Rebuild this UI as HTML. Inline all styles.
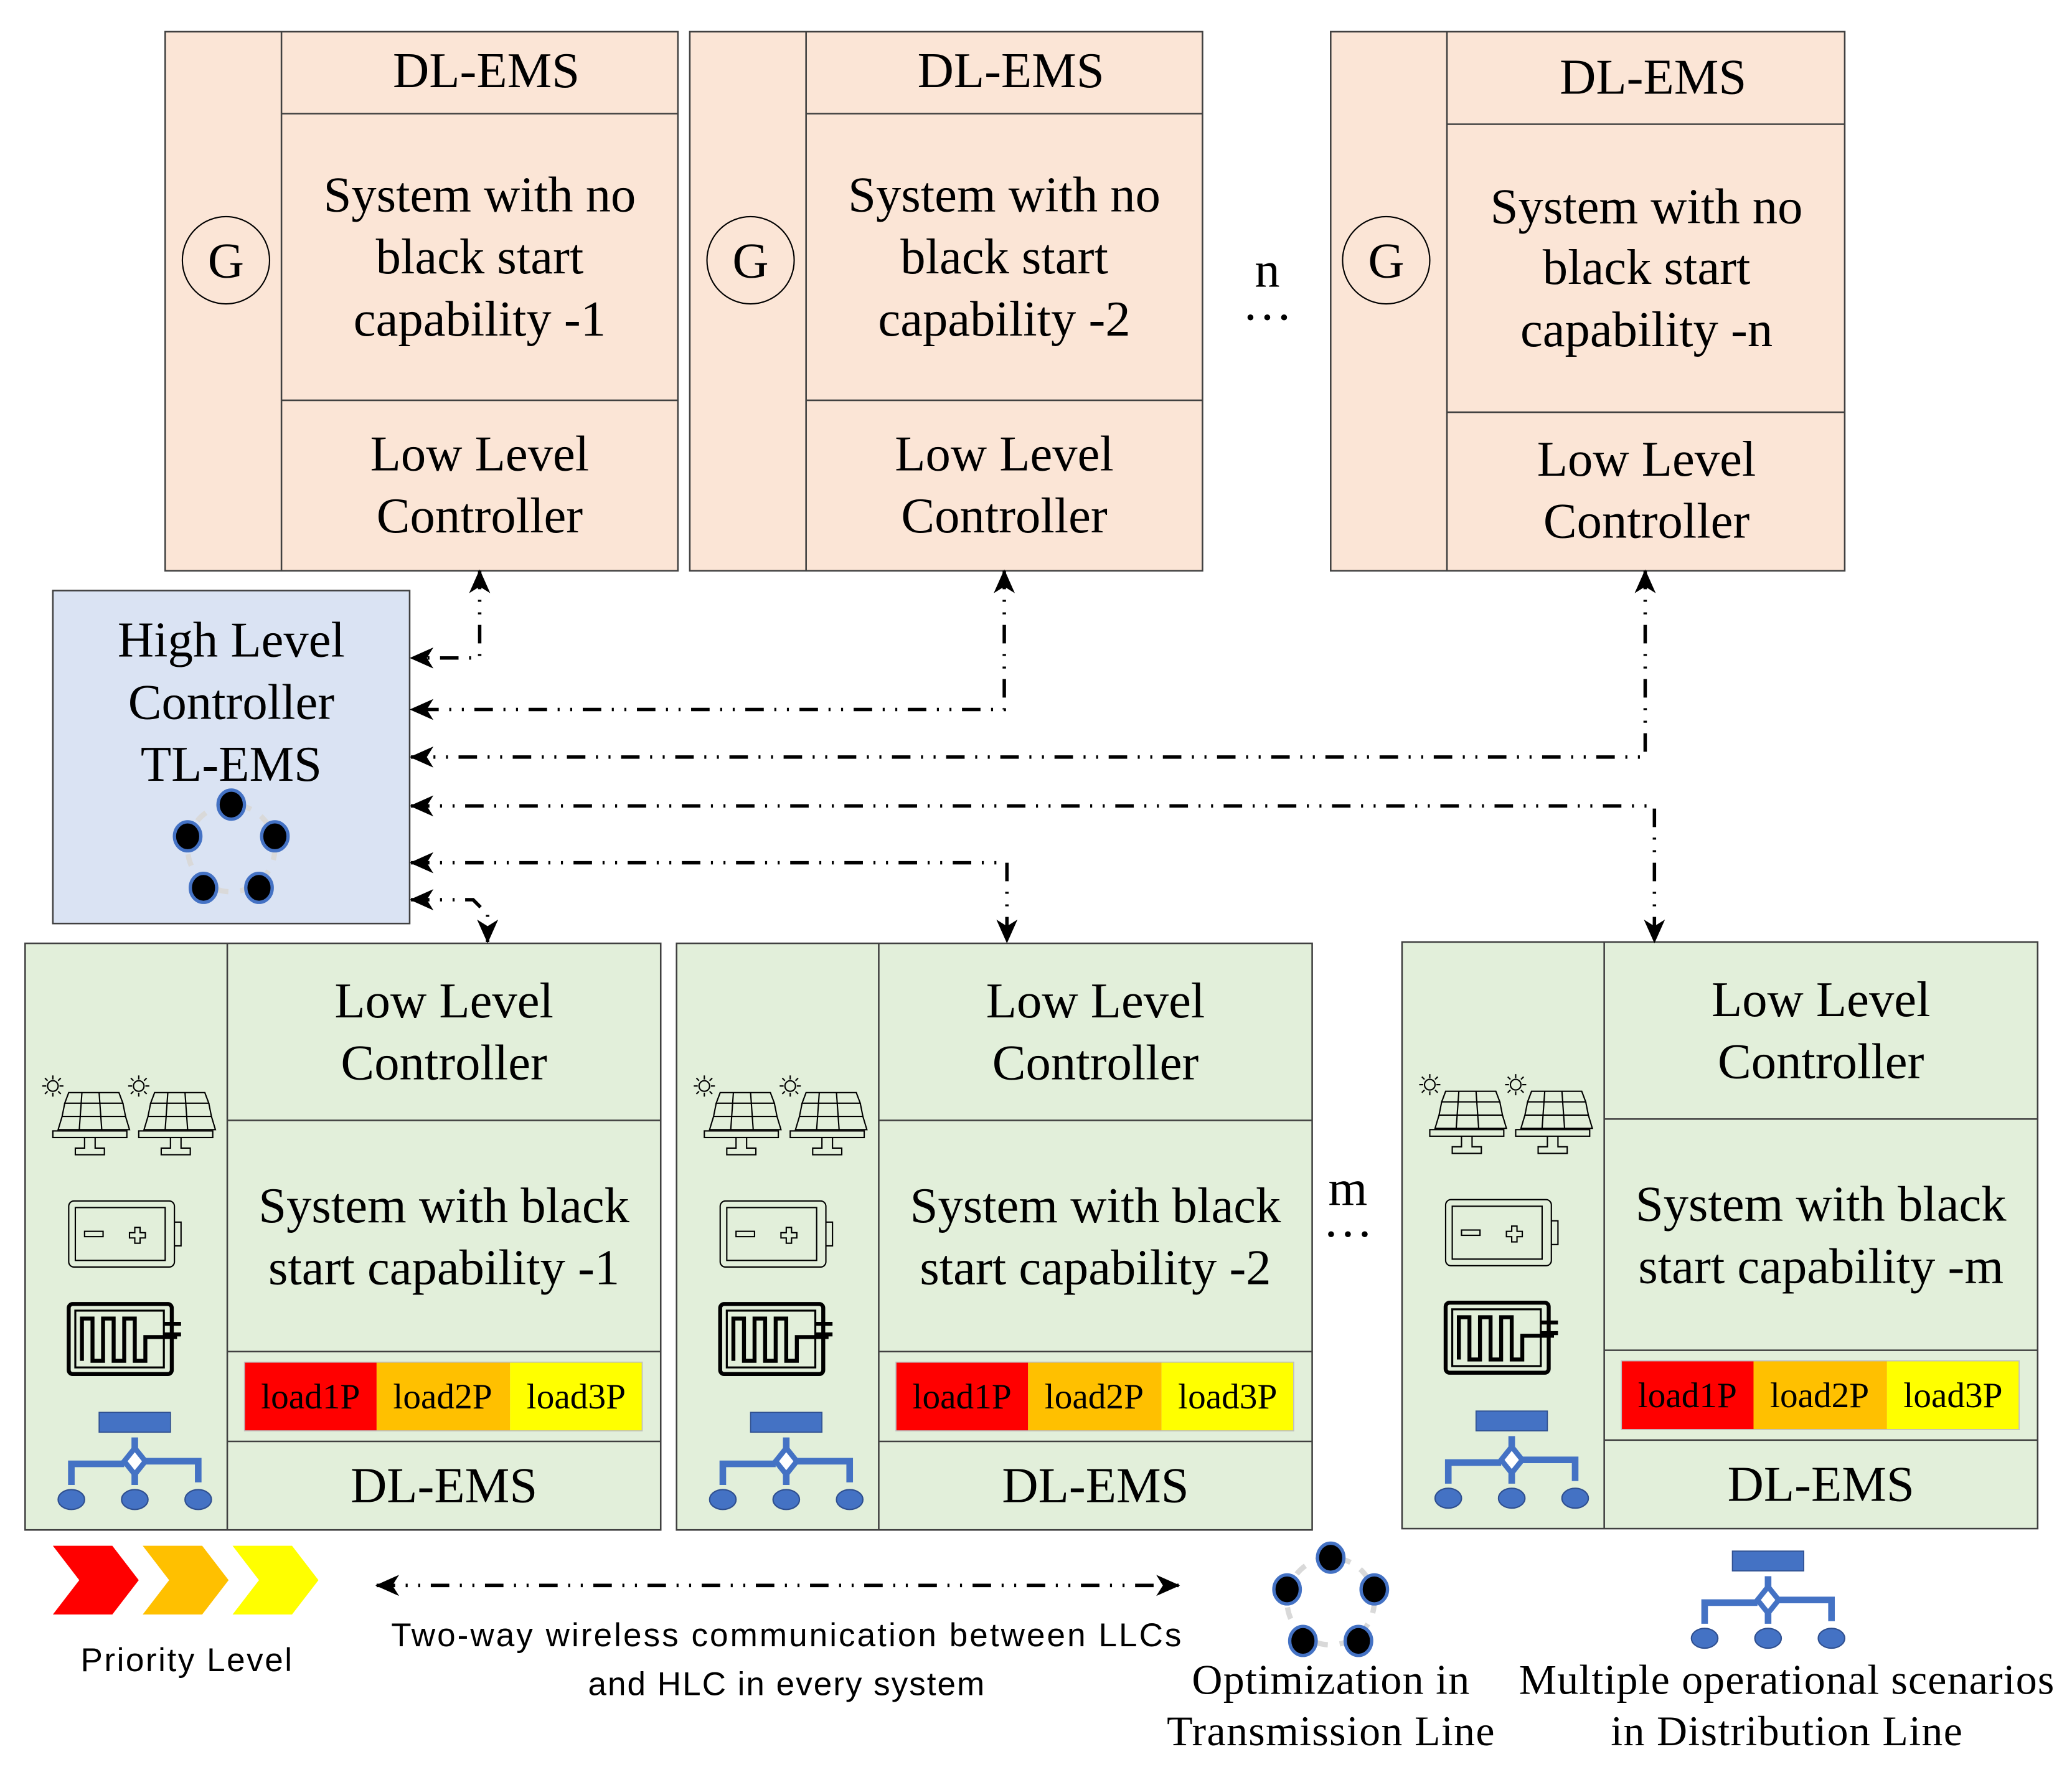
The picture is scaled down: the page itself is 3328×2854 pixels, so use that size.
<!DOCTYPE html>
<html><head><meta charset="utf-8"><style>html,body{margin:0;padding:0;background:#fff}svg{display:block;font-family:"Liberation Serif","Times New Roman",serif}.sans{font-family:"Liberation Sans","DejaVu Sans",sans-serif}</style></head>
<body>
<svg width="3328" height="2854" viewBox="0 0 1568 1345" preserveAspectRatio="none" xmlns="http://www.w3.org/2000/svg">
<defs>
<marker id="ah" markerWidth="18" markerHeight="16" refX="17" refY="8" orient="auto-start-reverse" markerUnits="userSpaceOnUse" viewBox="0 0 18 16"><path d="M0,0 L18,8 L0,16 L5,8 Z" fill="#000"/></marker>
<g id="icons">
 <g fill="none" stroke="#000" stroke-width="1">
  <g id="panel">
   <circle cx="40" cy="822" r="4"/>
   <path d="M40,814v3M40,827v3M32,822h3M45,822h3M34,816l2,2M44,826l2,2M34,828l2,-2M44,818l2,-2"/>
   <path d="M52,827h38l3,8h-44z M49,835h44l2,10h-48z M47,845h48l3,10h-54z"/>
   <path d="M62,827l-2,28M75,827l2,28"/>
   <rect x="40" y="856" width="56" height="5"/>
   <path d="M64,861v8h-7v5h22v-5h-7v-8"/>
  </g>
  <use href="#panel" transform="translate(65,0)"/>
 </g>
 <rect x="52" y="909" width="80" height="50" rx="4" fill="none" stroke="#000" stroke-width="1"/>
 <rect x="57" y="914" width="68" height="40" fill="none" stroke="#000" stroke-width="1"/>
 <path d="M132,925h5v18h-5" fill="none" stroke="#000" stroke-width="1"/>
 <rect x="64" y="932" width="14" height="4" fill="none" stroke="#000" stroke-width="1"/>
 <path d="M102,929h4v4h4v4h-4v4h-4v-4h-4v-4h4z" fill="none" stroke="#000" stroke-width="1"/>
 <rect x="52" y="987" width="78" height="53" rx="3" fill="none" stroke="#000" stroke-width="3"/>
 <rect x="57" y="992" width="67" height="43" fill="none" stroke="#000" stroke-width="1.5"/>
 <path d="M62,1030 v-32 h8 v32 h8 v-32 h8 v32 h8 v-32 h8 v32 h8 v-18 h24" fill="none" stroke="#000" stroke-width="3"/>
 <path d="M124,1002h13M124,1010h13" stroke="#000" stroke-width="3"/>
 <g id="net">
  <rect x="75" y="1069" width="54" height="15" fill="#4472c4" stroke="#2f4f8f" stroke-width="0.8"/>
  <path d="M102,1088v10M102,1114v10M54,1124v-16h40M110,1106h40v16" fill="none" stroke="#4472c4" stroke-width="5"/>
  <path d="M102,1096l8,10l-8,10l-8,-10z" fill="#fff" stroke="#4472c4" stroke-width="4"/>
  <ellipse cx="54" cy="1135" rx="10" ry="7.5" fill="#4472c4" stroke="#2f4f8f"/>
  <ellipse cx="102" cy="1135" rx="10" ry="7.5" fill="#4472c4" stroke="#2f4f8f"/>
  <ellipse cx="150" cy="1135" rx="10" ry="7.5" fill="#4472c4" stroke="#2f4f8f"/>
 </g>
</g>
<g id="penta">
 <circle cx="0" cy="0" r="33" fill="none" stroke="#d9d9d9" stroke-width="4" stroke-dasharray="9 9"/>
 <g fill="#000" stroke="#4472c4" stroke-width="2.5">
  <ellipse cx="0" cy="-33" rx="10" ry="11"/>
  <ellipse cx="33" cy="-9" rx="10" ry="11"/>
  <ellipse cx="21" cy="30" rx="10" ry="11"/>
  <ellipse cx="-21" cy="30" rx="10" ry="11"/>
  <ellipse cx="-33" cy="-9" rx="10" ry="11"/>
 </g>
</g>
</defs>

<g stroke="#404040" stroke-width="1.2" fill="#fbe5d6">
 <rect x="125" y="24" width="388" height="408"/><path d="M213,24V432M213,86H513M213,303H513" fill="none"/>
 <rect x="522" y="24" width="388" height="408"/><path d="M610,24V432M610,86H910M610,303H910" fill="none"/>
 <rect x="1007" y="24" width="389" height="408"/><path d="M1095,24V432M1095,94H1396M1095,312H1396" fill="none"/>
</g>
<g fill="none" stroke="#000" stroke-width="1">
 <circle cx="171" cy="197" r="33"/><circle cx="568" cy="197" r="33"/><circle cx="1049" cy="197" r="33"/>
</g>
<g font-size="38" text-anchor="middle" fill="#000">
 <text x="171" y="210">G</text><text x="568" y="210">G</text><text x="1049" y="210">G</text>
 <text x="368" y="66">DL-EMS</text>
 <text x="363" y="160">System with no</text><text x="363" y="207">black start</text><text x="363" y="254">capability  -1</text>
 <text x="363" y="356">Low Level</text><text x="363" y="403">Controller</text>
 <text x="765" y="66">DL-EMS</text>
 <text x="760" y="160">System with no</text><text x="760" y="207">black start</text><text x="760" y="254">capability  -2</text>
 <text x="760" y="356">Low Level</text><text x="760" y="403">Controller</text>
 <text x="1251" y="71">DL-EMS</text>
 <text x="1246" y="169">System with no</text><text x="1246" y="215">black start</text><text x="1246" y="262">capability  -n</text>
 <text x="1246" y="360">Low Level</text><text x="1246" y="407">Controller</text>
 <text x="959" y="217">n</text><text x="959" y="242">…</text>
 <text x="1020" y="912">m</text><text x="1020" y="936">…</text>
</g>

<rect x="40" y="447" width="270" height="252" fill="#dae3f3" stroke="#404040" stroke-width="1.2"/>
<g font-size="38" text-anchor="middle"><text x="175" y="497">High Level</text><text x="175" y="544">Controller</text><text x="175" y="591">TL-EMS</text></g>
<use href="#penta" transform="translate(175,642)"/>

<g id="bb">
 <rect x="19" y="714" width="481" height="444" fill="#e2efda" stroke="#404040" stroke-width="1.2"/>
 <path d="M172,714V1158M172,848H500M172,1023H500M172,1091H500" fill="none" stroke="#404040" stroke-width="1.2"/>
 <rect x="185" y="1031" width="100" height="52" fill="#ff0000"/>
 <rect x="285" y="1031" width="101" height="52" fill="#ffc000"/>
 <rect x="386" y="1031" width="100" height="52" fill="#ffff00"/>
 <rect x="185" y="1031" width="301" height="52" fill="none" stroke="#bfbfbf" stroke-width="0.8"/>
 <g font-size="27" text-anchor="middle"><text x="235" y="1066">load1P</text><text x="335" y="1066">load2P</text><text x="436" y="1066">load3P</text></g>
 <g font-size="38" text-anchor="middle"><text x="336" y="770">Low Level</text><text x="336" y="817">Controller</text><text x="336" y="1137">DL-EMS</text></g>
 <use href="#icons"/>
</g>
<g font-size="38" text-anchor="middle"><text x="336" y="925">System with black</text><text x="336" y="972">start capability -1</text></g>
<use href="#bb" transform="translate(493,0)"/>
<g font-size="38" text-anchor="middle"><text x="829" y="925">System with black</text><text x="829" y="972">start capability -2</text></g>
<use href="#bb" transform="translate(1042,-1)"/>
<g font-size="38" text-anchor="middle"><text x="1378" y="924">System with black</text><text x="1378" y="971">start capability -m</text></g>

<g fill="none" stroke="#000" stroke-width="2.6" stroke-dasharray="14 8 1.5 8 1.5 8">
 <path d="M363,432 V498 H311" marker-start="url(#ah)" marker-end="url(#ah)"/>
 <path d="M760,432 V537 H311" marker-start="url(#ah)" marker-end="url(#ah)"/>
 <path d="M1245,432 V573 H311" marker-start="url(#ah)" marker-end="url(#ah)"/>
 <path d="M311,610 H1252 V713" marker-start="url(#ah)" marker-end="url(#ah)"/>
 <path d="M311,653 H762 V713" marker-start="url(#ah)" marker-end="url(#ah)"/>
 <path d="M311,681 H358 L369,692 V713" marker-start="url(#ah)" marker-end="url(#ah)"/>
 <path d="M285,1200 H892" marker-start="url(#ah)" marker-end="url(#ah)"/>
</g>

<path d="M40,1170h45l20,26l-20,26h-45l20,-26z" fill="#ff0000"/>
<path d="M108,1170h45l20,26l-20,26h-45l20,-26z" fill="#ffc000"/>
<path d="M176,1170h45l20,26l-20,26h-45l20,-26z" fill="#ffff00"/>
<g class="sans" font-size="25" text-anchor="middle">
 <text x="141" y="1265" textLength="160">Priority Level</text>
 <text x="595" y="1246" textLength="598">Two-way wireless communication between LLCs</text>
 <text x="595" y="1283" textLength="300">and HLC in every system</text>
</g>
<use href="#penta" transform="translate(1007,1212)"/>
<use href="#net" transform="translate(1236,105)"/>
<g font-size="32" text-anchor="middle">
 <text x="1007" y="1282" textLength="210">Optimization in</text>
 <text x="1007" y="1321" textLength="248">Transmission Line</text>
 <text x="1352" y="1282" textLength="405">Multiple operational scenarios</text>
 <text x="1352" y="1321" textLength="266">in Distribution Line</text>
</g>
</svg>
</body></html>
